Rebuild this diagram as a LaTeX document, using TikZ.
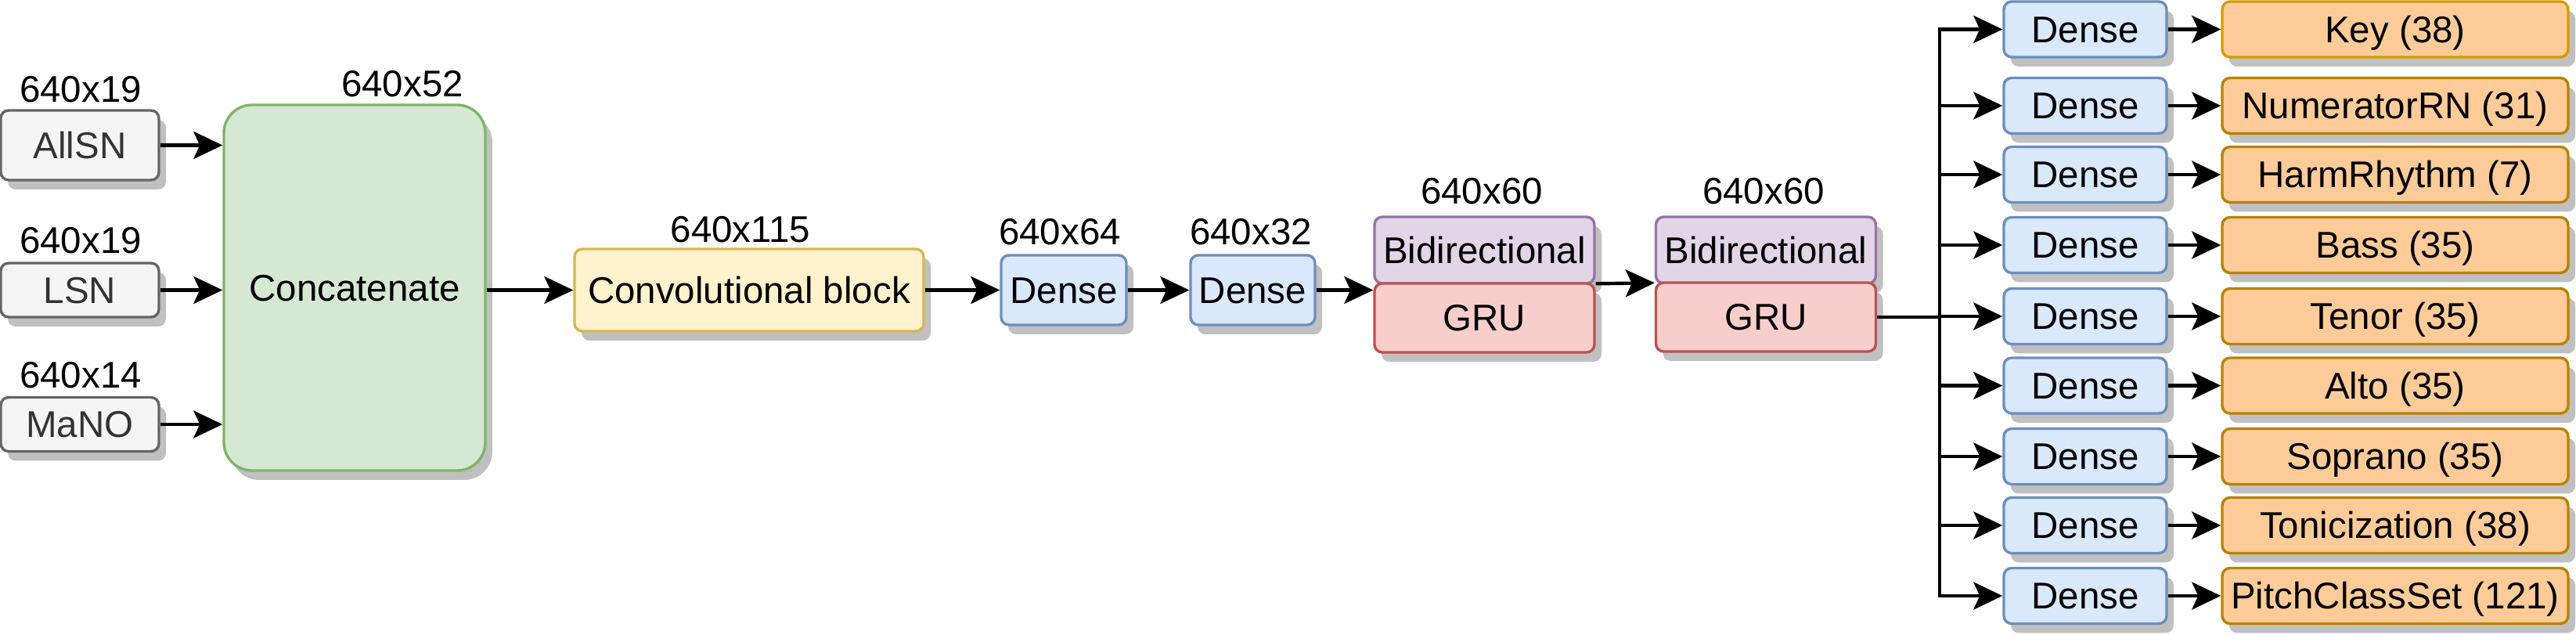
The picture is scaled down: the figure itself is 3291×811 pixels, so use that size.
\documentclass[tikz,border=0pt]{standalone}
\usepackage{fontspec}
\setmainfont{Liberation Sans}
\usetikzlibrary{arrows.meta,shadows,calc}
\definecolor{shd}{HTML}{C0C0C0}
\definecolor{gfill}{HTML}{F5F5F5}\definecolor{gline}{HTML}{666666}\definecolor{gtext}{HTML}{333333}
\definecolor{grfill}{HTML}{D5E8D4}\definecolor{grline}{HTML}{82B366}
\definecolor{yfill}{HTML}{FFF2CC}\definecolor{yline}{HTML}{D6B656}
\definecolor{bfill}{HTML}{DAE8FC}\definecolor{bline}{HTML}{6C8EBF}
\definecolor{pfill}{HTML}{E1D5E7}\definecolor{pline}{HTML}{9673A6}
\definecolor{rfill}{HTML}{F8CECC}\definecolor{rline}{HTML}{B85450}
\definecolor{ofill}{HTML}{FFCC99}\definecolor{oline}{HTML}{D79B00}\definecolor{oline2}{HTML}{B68300}
\begin{document}
\begin{tikzpicture}[x=0.25pt,y=-0.25pt,
  every node/.style={font=\fontsize{11.875pt}{14pt}\selectfont, inner sep=0pt, text height=8.5pt, text depth=0pt},
  box/.style={draw, rounded corners=2.5pt, line width=0.85pt, align=center,
    drop shadow={shadow xshift=2.25pt, shadow yshift=-3pt, fill=shd, opacity=1}},
  graybox/.style={box, fill=gfill, draw=gline, text=gtext, minimum width=50.5pt},
  concatbox/.style={box, fill=grfill, draw=grline, rounded corners=9pt},
  convbox/.style={box, fill=yfill, draw=yline},
  densebox/.style={box, fill=bfill, draw=bline},
  bidibox/.style={box, fill=pfill, draw=pline, minimum width=70.25pt, minimum height=21.25pt},
  grubox/.style={box, fill=rfill, draw=rline, minimum width=70.25pt, minimum height=22pt},
  outbox/.style={box, fill=ofill, draw=oline2, minimum width=110.5pt, minimum height=17.75pt},
  rdense/.style={densebox, minimum width=52pt, minimum height=17.75pt},
  lbl/.style={},
  conn/.style={line width=1.1pt},
  arr/.style={conn, -{Stealth[length=9.25pt, width=8.75pt, inset=2pt]}}
]
\useasboundingbox (0,0) rectangle (3291,811);

% inputs
\node[lbl] (l1) at (103,114) {640x19};
\node[graybox, minimum height=22.25pt] (allsn) at (102,185.5) {AllSN};
\node[lbl] (l2) at (103,307) {640x19};
\node[graybox, minimum height=17.25pt] (lsn) at (102,370.5) {LSN};
\node[lbl] (l3) at (103,479) {640x14};
\node[graybox, minimum height=17.25pt] (mano) at (102,542) {MaNO};

\node[lbl] (l4) at (514,107) {640x52};
\node[concatbox, minimum width=83.5pt, minimum height=116.75pt] (concat) at (453,367.5) {Concatenate};

\node[lbl] (l5) at (946,293) {640x115};
\node[convbox, minimum width=111.5pt, minimum height=26.25pt] (conv) at (957,370.5) {Convolutional block};

\node[lbl] (l6) at (1354,296) {640x64};
\node[densebox, minimum width=40pt, minimum height=22.25pt] (d1) at (1359,370.5) {Dense};
\node[lbl] (l7) at (1598,296) {640x32};
\node[densebox, minimum width=39.75pt, minimum height=22.25pt] (d2) at (1600.5,370.5) {Dense};

\node[lbl] (l8) at (1893,244) {640x60};
\node[bidibox] (bi1) at (1896.5,319.5) {Bidirectional};
\node[grubox] (gru1) at (1896.5,406) {GRU};
\node[lbl] (l9) at (2253,244) {640x60};
\node[bidibox] (bi2) at (2256,319.5) {Bidirectional};
\node[grubox] (gru2) at (2256,405) {GRU};

% outputs
\node[rdense] (dn1) at (2664,37.5) {Dense};
\node[outbox, draw=oline] (out1) at (3060,37.5) {Key (38)};
\foreach \i/\y/\t in {2/135/NumeratorRN (31), 3/223/HarmRhythm (7), 4/313/Bass (35), 5/404/Tenor (35), 6/492.5/Alto (35), 7/583/Soprano (35), 8/671/Tonicization (38), 9/761/PitchClassSet (121)}{
  \node[rdense] (dn\i) at (2664,\y) {Dense};
  \node[outbox] (out\i) at (3060,\y) {\t};
}

% connectors
\draw[arr] (allsn.east) -- (allsn.east -| concat.west);
\draw[arr] (lsn.east) -- (lsn.east -| concat.west);
\draw[arr] (mano.east) -- (mano.east -| concat.west);
\draw[arr] (concat.east |- conv.west) -- (conv.west);
\draw[arr] (conv.east) -- (d1.west);
\draw[arr] (d1.east) -- (d2.west);
\draw[arr] (d2.east) -- (d2.east -| gru1.west);
\draw[arr] ([yshift=-0.5pt]gru1.north east) -- ([yshift=-0.5pt]gru2.north west);

\coordinate (ttop) at (2478,37.5);
\coordinate (tbot) at (2478,761);
\draw[conn] (gru2.east) -- (gru2.east -| ttop);
\draw[conn, line cap=rect] (ttop) -- (tbot);
\foreach \i in {1,...,9}{
  \draw[arr] (ttop |- dn\i.west) -- (dn\i.west);
  \draw[arr] (dn\i.east) -- (out\i.west);
}
\end{tikzpicture}
\end{document}
